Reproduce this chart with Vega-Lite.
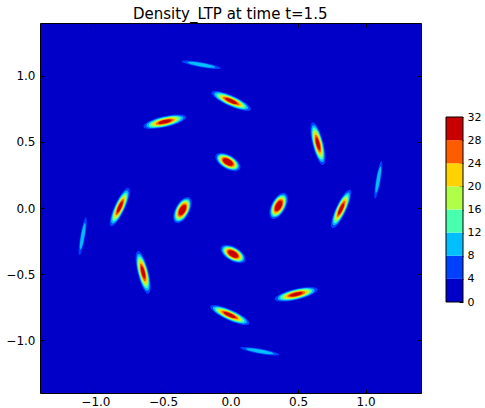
{
  "$schema": "https://vega.github.io/schema/vega-lite/v6.json",
  "padding": {"left": 5, "top": 7, "right": 5, "bottom": 0},
  "background": "white",
  "title": {"text": "Density_LTP at time t=1.5", "fontSize": 15, "font": "DejaVu Sans", "fontWeight": "normal", "color": "black", "anchor": "middle", "dx": -13, "offset": 0},
  "config": {
    "font": "DejaVu Sans",
    "axis": {"labelFont": "DejaVu Sans", "labelFontSize": 12, "labelColor": "black", "tickColor": "black", "tickWidth": 1, "domain": false, "grid": false, "tickSize": -4, "labelPadding": 9}
  },
  "datasets": {
    "blobs": [
      {"blob": "A1", "x": -0.217, "y": 1.084, "angle": 10, "form": "thin", "level": [4, 8], "a": [0.148, 0.104]},
      {"blob": "A2", "x": 0.217, "y": -1.084, "angle": 10, "form": "thin", "level": [4, 8], "a": [0.148, 0.104]},
      {"blob": "B1", "x": 0.005, "y": 0.81, "angle": 24, "form": "long", "level": [4, 8, 12, 16, 20, 24, 28], "a": [0.159, 0.137, 0.118, 0.1, 0.084, 0.067, 0.048]},
      {"blob": "B2", "x": -0.005, "y": -0.81, "angle": 24, "form": "long", "level": [4, 8, 12, 16, 20, 24, 28], "a": [0.159, 0.137, 0.118, 0.1, 0.084, 0.067, 0.048]},
      {"blob": "C1", "x": -0.486, "y": 0.653, "angle": 167, "form": "long", "level": [4, 8, 12, 16, 20, 24, 28], "a": [0.163, 0.14, 0.121, 0.103, 0.086, 0.068, 0.049]},
      {"blob": "C2", "x": 0.486, "y": -0.653, "angle": 167, "form": "long", "level": [4, 8, 12, 16, 20, 24, 28], "a": [0.163, 0.14, 0.121, 0.103, 0.086, 0.068, 0.049]},
      {"blob": "D1", "x": 0.647, "y": 0.487, "angle": 76, "form": "long", "level": [4, 8, 12, 16, 20, 24, 28], "a": [0.163, 0.14, 0.121, 0.103, 0.086, 0.068, 0.049]},
      {"blob": "D2", "x": -0.647, "y": -0.487, "angle": 76, "form": "long", "level": [4, 8, 12, 16, 20, 24, 28], "a": [0.163, 0.14, 0.121, 0.103, 0.086, 0.068, 0.049]},
      {"blob": "E1", "x": -0.019, "y": 0.348, "angle": 30, "form": "round", "level": [4, 8, 12, 16, 20, 24, 28], "a": [0.104, 0.09, 0.08, 0.071, 0.061, 0.052, 0.041]},
      {"blob": "E2", "x": 0.019, "y": -0.348, "angle": 30, "form": "round", "level": [4, 8, 12, 16, 20, 24, 28], "a": [0.104, 0.09, 0.08, 0.071, 0.061, 0.052, 0.041]},
      {"blob": "F1", "x": 1.094, "y": 0.214, "angle": 100, "form": "thin", "level": [4, 8], "a": [0.141, 0.099]},
      {"blob": "F2", "x": -1.094, "y": -0.214, "angle": 100, "form": "thin", "level": [4, 8], "a": [0.141, 0.099]},
      {"blob": "G1", "x": -0.819, "y": 0.007, "angle": 115, "form": "long", "level": [4, 8, 12, 16, 20, 24, 28], "a": [0.156, 0.134, 0.115, 0.098, 0.083, 0.066, 0.047]},
      {"blob": "G2", "x": 0.819, "y": -0.007, "angle": 115, "form": "long", "level": [4, 8, 12, 16, 20, 24, 28], "a": [0.156, 0.134, 0.115, 0.098, 0.083, 0.066, 0.047]},
      {"blob": "H1", "x": -0.356, "y": -0.016, "angle": 118, "form": "round", "level": [4, 8, 12, 16, 20, 24, 28], "a": [0.107, 0.093, 0.082, 0.073, 0.063, 0.054, 0.042]},
      {"blob": "H2", "x": 0.356, "y": 0.016, "angle": 118, "form": "round", "level": [4, 8, 12, 16, 20, 24, 28], "a": [0.107, 0.093, 0.082, 0.073, 0.063, 0.054, 0.042]}
    ],
    "bands": [
      {"level": 0, "top": 4},
      {"level": 4, "top": 8},
      {"level": 8, "top": 12},
      {"level": 12, "top": 16},
      {"level": 16, "top": 20},
      {"level": 20, "top": 24},
      {"level": 24, "top": 28},
      {"level": 28, "top": 32}
    ]
  },
  "spacing": 23,
  "resolve": {"scale": {"x": "independent", "y": "independent", "color": "independent"}},
  "hconcat": [
    {
      "width": 381,
      "height": 370,
      "view": {"fill": "#0000c8", "stroke": "black", "strokeWidth": 1},
      "data": {"name": "blobs"},
      "transform": [{"flatten": ["level", "a"]}],
      "layer": [
        {
          "mark": {"type": "point", "filled": true, "opacity": 1, "strokeWidth": 0},
          "encoding": {
            "x": {"field": "x", "type": "quantitative", "scale": {"domain": [-1.41, 1.41], "nice": false, "zero": false}, "axis": {"values": [-1, -0.5, 0, 0.5, 1], "format": ".1f", "title": null, "orient": "bottom", "labelPadding": 7}},
            "y": {"field": "y", "type": "quantitative", "scale": {"domain": [-1.4, 1.4], "nice": false, "zero": false}, "axis": {"values": [-1, -0.5, 0, 0.5, 1], "format": ".1f", "title": null, "orient": "left"}},
            "color": {"field": "level", "type": "ordinal", "scale": {"domain": [0, 4, 8, 12, 16, 20, 24, 28], "range": ["#0000c8", "#0040ff", "#00bfff", "#48ffaf", "#afff48", "#ffd200", "#ff5c00", "#c80000"]}, "legend": null},
            "size": {"field": "a", "type": "quantitative", "scale": {"type": "pow", "exponent": 2, "domain": [0, 0.2], "range": [0, 2916]}, "legend": null},
            "shape": {"field": "form", "type": "nominal", "scale": {"domain": ["thin", "long", "round"], "range": ["M-1,0A1,0.125,0,1,0,1,0A1,0.125,0,1,0,-1,0Z", "M-1,0A1,0.25,0,1,0,1,0A1,0.25,0,1,0,-1,0Z", "M-1,0A1,0.5,0,1,0,1,0A1,0.5,0,1,0,-1,0Z"]}, "legend": null},
            "angle": {"field": "angle", "type": "quantitative", "scale": {"domain": [0, 360], "range": [0, 360]}, "legend": null},
            "order": {"field": "level", "type": "quantitative"}
          }
        },
        {
          "mark": {"type": "point", "opacity": 0},
          "encoding": {
            "x": {"field": "x", "type": "quantitative", "axis": {"values": [-1, -0.5, 0, 0.5, 1], "labels": false, "title": null, "orient": "top"}},
            "y": {"field": "y", "type": "quantitative", "axis": {"values": [-1, -0.5, 0, 0.5, 1], "labels": false, "title": null, "orient": "right"}}
          }
        }
      ],
      "resolve": {"axis": {"x": "independent", "y": "independent"}}
    },
    {
      "width": 17,
      "height": 370,
      "view": {"stroke": null},
      "data": {"name": "bands"},
      "layer": [
        {
          "mark": {"type": "rect"},
          "encoding": {
            "x": {"datum": 0, "type": "quantitative", "scale": {"domain": [0, 1]}, "axis": null},
            "x2": {"datum": 1},
            "y": {"field": "level", "type": "quantitative", "scale": {"domain": [-15.74, 48.26], "nice": false, "zero": false}, "axis": {"orient": "right", "values": [0, 4, 8, 12, 16, 20, 24, 28, 32], "title": null, "labelFontSize": 11, "labelPadding": 8}},
            "y2": {"field": "top"},
            "color": {"field": "level", "type": "ordinal", "scale": {"domain": [0, 4, 8, 12, 16, 20, 24, 28], "range": ["#0000c8", "#0040ff", "#00bfff", "#48ffaf", "#afff48", "#ffd200", "#ff5c00", "#c80000"]}, "legend": null}
          }
        },
        {
          "mark": {"type": "rect", "fillOpacity": 0, "stroke": "black", "strokeWidth": 1},
          "encoding": {
            "x": {"datum": 0, "type": "quantitative"},
            "x2": {"datum": 1},
            "y": {"aggregate": "min", "field": "level", "type": "quantitative"},
            "y2": {"aggregate": "max", "field": "top"}
          }
        }
      ]
    }
  ]
}
